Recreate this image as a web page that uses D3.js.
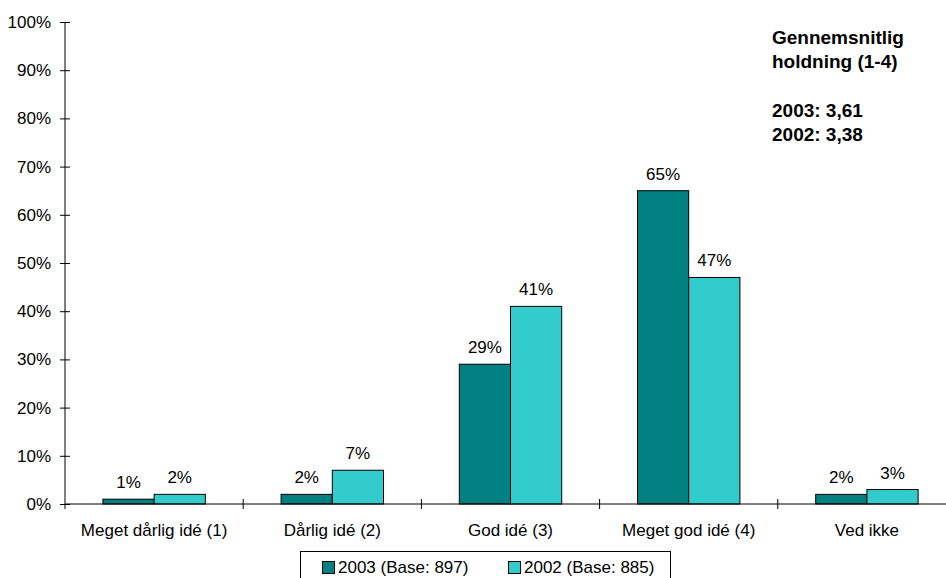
<!DOCTYPE html>
<html><head><meta charset="utf-8">
<script src="https://cdn.jsdelivr.net/npm/d3@7"></script>
<style>
html,body{margin:0;padding:0;background:#fff;}
svg{display:block;font-family:"Liberation Sans",Arial,sans-serif;}
</style></head>
<body>
<svg id="chart" width="946" height="578"></svg>
<script>
const categories = ["Meget dårlig idé (1)", "Dårlig idé (2)", "God idé (3)", "Meget god idé (4)", "Ved ikke"];
const seriesNames = ["2003 (Base: 897)", "2002 (Base: 885)"];
const values2003 = [1, 2, 29, 65, 2];
const values2002 = [2, 7, 41, 47, 3];
const seriesColors = ["#008080", "#33CCCC"];
const yTicks = [0, 10, 20, 30, 40, 50, 60, 70, 80, 90, 100];
const noteLines = ["Gennemsnitlig", "holdning (1-4)", "", "2003: 3,61", "2002: 3,38"];

const svg = d3.select("#chart");
const x0 = 65, y0 = 504, yTop = 22, step = 178.2;

const x = d3.scaleBand().domain(categories).range([x0, x0 + step * categories.length]).paddingInner(0).paddingOuter(0);
const x1 = d3.scaleBand().domain([0, 1]).range([0, x.bandwidth()]).paddingInner(0).paddingOuter(0.74);
const y = d3.scaleLinear().domain([0, 100]).range([y0, yTop]);

const data = categories.map((c, i) => ({cat: c, vals: [values2003[i], values2002[i]]}));

// bars
const g = svg.append("g");
data.forEach(d => {
  d.vals.forEach((v, s) => {
    g.append("rect")
      .attr("x", x(d.cat) + x1(s))
      .attr("y", y(v))
      .attr("width", x1.bandwidth())
      .attr("height", y0 - y(v))
      .attr("fill", seriesColors[s])
      .attr("stroke", "#000")
      .attr("stroke-width", 1);
    g.append("text")
      .attr("x", x(d.cat) + x1(s) + x1.bandwidth() / 2)
      .attr("y", y(v) - 11)
      .attr("text-anchor", "middle")
      .attr("font-size", 17)
      .attr("fill", "#000")
      .text(v + "%");
  });
});

// y axis
const yAxis = d3.axisLeft(y).tickValues(yTicks).tickFormat(d => d + "%").tickSizeInner(5).tickSizeOuter(0).tickPadding(9);
const ya = svg.append("g").attr("transform", `translate(${x0},0)`).call(yAxis);
ya.select(".domain").remove();
ya.selectAll(".tick line").attr("x1", -5).attr("x2", 5).attr("stroke", "#000");
ya.selectAll(".tick text").attr("font-size", 17).attr("fill", "#000").attr("font-family", "Liberation Sans, Arial, sans-serif");
svg.append("line").attr("x1", x0).attr("x2", x0).attr("y1", yTop).attr("y2", y0 + 5).attr("stroke", "#000");

// x axis
svg.append("line").attr("x1", x0).attr("x2", 946).attr("y1", y0).attr("y2", y0).attr("stroke", "#000");
const xAxis = d3.axisBottom(x).tickSize(0).tickPadding(20);
const xa = svg.append("g").attr("transform", `translate(0,${y0})`).call(xAxis);
xa.select(".domain").remove();
xa.selectAll(".tick text").attr("font-size", 17).attr("fill", "#000").attr("font-family", "Liberation Sans, Arial, sans-serif");
categories.slice(1).forEach(c => {
  svg.append("line").attr("x1", x(c)).attr("x2", x(c)).attr("y1", y0 - 5).attr("y2", y0 + 5).attr("stroke", "#000");
});

// note
const note = svg.append("text").attr("font-size", 19).attr("font-weight", "bold").attr("fill", "#000");
const noteY = [44, 68, 92, 117, 141];
noteLines.forEach((t, i) => {
  if (t) note.append("tspan").attr("x", 772).attr("y", noteY[i]).text(t);
});

// legend
svg.append("rect").attr("x", 300.5).attr("y", 551.5).attr("width", 370).attr("height", 40)
  .attr("fill", "#fff").attr("stroke", "#000");
const legX = [322, 508];
seriesNames.forEach((n, i) => {
  svg.append("rect").attr("x", legX[i] + 0.5).attr("y", 561.5).attr("width", 12).attr("height", 12)
    .attr("fill", seriesColors[i]).attr("stroke", "#000");
  svg.append("text").attr("x", legX[i] + 16).attr("y", 573).attr("font-size", 17).attr("fill", "#000").text(n);
});
</script>
</body></html>
